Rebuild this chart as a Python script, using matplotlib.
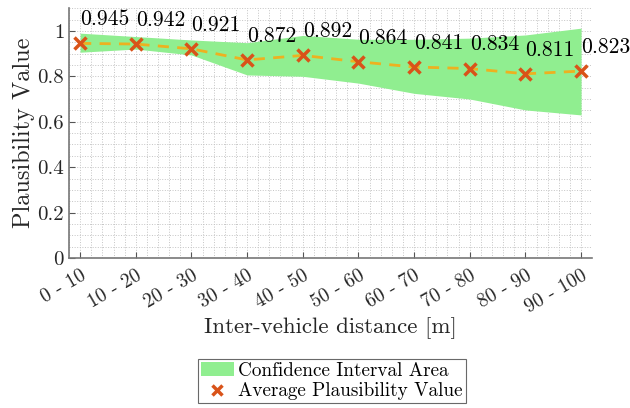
import matplotlib
matplotlib.use("Agg")
import matplotlib.pyplot as plt
import matplotlib.transforms as mtransforms
from matplotlib.ticker import MultipleLocator, FuncFormatter
from matplotlib.patches import Patch
from matplotlib.lines import Line2D

plt.rcParams['font.family'] = 'serif'
plt.rcParams['font.serif'] = ['cmr10', 'DejaVu Serif']
plt.rcParams['mathtext.fontset'] = 'cm'
plt.rcParams['axes.formatter.use_mathtext'] = True

categories = ["0 - 10", "10 - 20", "20 - 30", "30 - 40", "40 - 50",
              "50 - 60", "60 - 70", "70 - 80", "80 - 90", "90 - 100"]
avg_values = [0.945, 0.942, 0.921, 0.872, 0.892, 0.864, 0.841, 0.834, 0.811, 0.823]
ci_upper = [0.990, 0.975, 0.960, 0.948, 0.980, 0.963, 0.963, 0.968, 0.982, 1.012]
ci_lower = [0.906, 0.920, 0.894, 0.806, 0.800, 0.770, 0.725, 0.700, 0.652, 0.630]

x = list(range(1, len(categories) + 1))

fig = plt.figure(figsize=(6.3, 4.08), dpi=100)
ax = fig.add_axes([0.1095, 0.3676, 0.8305, 0.6124])

ax.fill_between(x, ci_lower, ci_upper, color='#90EE90', linewidth=0, zorder=2)
ax.plot(x, avg_values, linestyle=(0, (4, 3)), color='#EDB120', linewidth=2, zorder=3)
ax.plot(x, avg_values, linestyle='none', marker='x', markersize=9,
        markeredgewidth=2.5, color='#D95319', zorder=4)

for xi, v in zip(x, avg_values):
    ax.text(xi, v + 0.105, f"{v:.3f}", ha='left', va='center', fontsize=15.6, zorder=5)

ax.set_xlim(0.8, 10.2)
ax.set_ylim(0, 1.1)
ax.set_xticks(x)
ax.set_xticklabels(categories, rotation=30, ha='right', rotation_mode='anchor',
                   fontsize=14, color='#262626')
offset = mtransforms.ScaledTranslation(6 / 100, 0, fig.dpi_scale_trans)
for lbl in ax.get_xticklabels():
    lbl.set_transform(lbl.get_transform() + offset)
ax.yaxis.set_major_locator(MultipleLocator(0.2))
ax.yaxis.set_major_formatter(FuncFormatter(lambda v, p: f"{v:g}"))
ax.xaxis.set_minor_locator(MultipleLocator(0.2))
ax.yaxis.set_minor_locator(MultipleLocator(0.05))
ax.tick_params(axis='y', labelsize=15, labelcolor='#262626')
ax.tick_params(axis='x', pad=6)
ax.tick_params(which='both', direction='in', color='#555555')
ax.tick_params(which='major', length=4)
ax.tick_params(which='minor', length=0)
ax.grid(which='both', linestyle=':', color='#c4c4c4', linewidth=0.7)
ax.set_axisbelow(True)
for s in ['top', 'right']:
    ax.spines[s].set_visible(False)
for s in ['left', 'bottom']:
    ax.spines[s].set_color('#777777')
    ax.spines[s].set_linewidth(1.2)

ax.set_ylabel("Plausibility Value", fontsize=17.5, labelpad=2, color='#262626')
ax.set_xlabel("Inter-vehicle distance [m]", fontsize=16.5, labelpad=1, color='#262626')

handles = [Patch(facecolor='#90EE90', edgecolor='none', label='Confidence Interval Area'),
           Line2D([], [], linestyle='none', marker='x', markersize=7, markeredgewidth=2.5,
                  color='#D95319', label='Average Plausibility Value')]
leg = fig.legend(handles=handles, loc='center', bbox_to_anchor=(332 / 630, 1 - 381 / 408),
                 fontsize=13.8, frameon=True, fancybox=False, edgecolor='#444444',
                 borderpad=0.15, handlelength=1.7, handletextpad=0.25, labelspacing=0.15,
                 borderaxespad=0)
leg.get_frame().set_linewidth(0.8)

fig.savefig("out.png", dpi=100)
